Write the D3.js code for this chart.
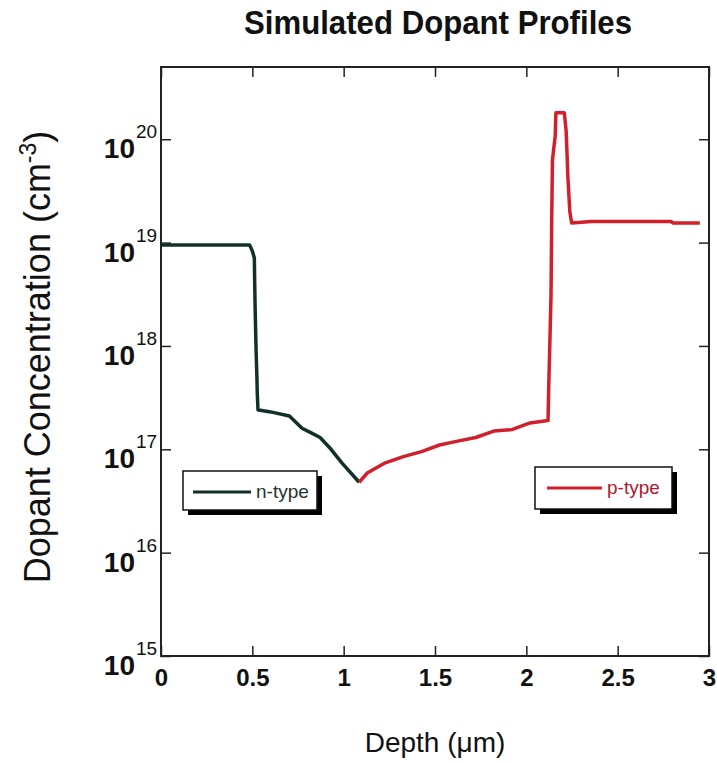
<!DOCTYPE html>
<html>
<head>
<meta charset="utf-8">
<script src="https://cdn.jsdelivr.net/npm/d3@7"></script>
<style>
  html, body { margin: 0; padding: 0; background: #fff; }
  svg { display: block; font-family: "Liberation Sans", Arial, sans-serif; }
</style>
</head>
<body>
<svg id="chart" width="717" height="763"></svg>
<script>
// ---------------- data ----------------
const title = "Simulated Dopant Profiles";
const xLabel = "Depth (\u03bcm)";
const xTicks = [0, 0.5, 1, 1.5, 2, 2.5, 3];
const xTickLabels = ["0", "0.5", "1", "1.5", "2", "2.5", "3"];
const yTicks = [1e15, 1e16, 1e17, 1e18, 1e19, 1e20];
const yTickExponents = ["15", "16", "17", "18", "19", "20"];

const nDepth = [0, 0.485, 0.500, 0.511, 0.513, 0.515, 0.519, 0.521, 0.525, 0.527, 0.531, 0.535, 0.600, 0.703, 0.772, 0.820, 0.871, 0.931, 0.990, 1.085];
const nConc  = [9.5e18, 9.5e18, 8.3e18, 7.1e18, 4.0e18, 2.5e18, 1.2e18, 8.5e17, 5.0e17, 3.5e17, 2.4e17, 2.4e17, 2.3e17, 2.1e17, 1.6e17, 1.45e17, 1.3e17, 1.0e17, 7.4e16, 4.8e16];

const pDepth = [1.085, 1.129, 1.228, 1.327, 1.426, 1.525, 1.624, 1.723, 1.822, 1.921, 2.020, 2.119, 2.123, 2.129, 2.135, 2.139, 2.143, 2.158, 2.162, 2.208, 2.218, 2.228, 2.238, 2.248, 2.356, 2.792, 2.802, 2.950];
const pConc  = [4.8e16, 5.9e16, 7.4e16, 8.5e16, 9.5e16, 1.1e17, 1.2e17, 1.3e17, 1.5e17, 1.55e17, 1.8e17, 1.9e17, 4.3e17, 1.1e18, 3.0e18, 1.7e19, 6.3e19, 1.07e20, 1.8e20, 1.8e20, 1.2e20, 4.1e19, 2.0e19, 1.55e19, 1.6e19, 1.6e19, 1.55e19, 1.55e19];

const seriesNames = ["n-type", "p-type"];
const seriesColors = ["#12302a", "#d0202c"];

// ---------------- layout ----------------
const svg = d3.select("#chart");
const L = 161, R = 709, T = 67, B = 656;

const x = d3.scaleLinear().domain([0, 3]).range([L, R]);
const y = d3.scaleLog().domain([1e15, 5e20]).range([B, T]);

// title
svg.append("text")
  .attr("x", 438).attr("y", 34)
  .attr("text-anchor", "middle")
  .attr("font-size", 33).attr("font-weight", "bold")
  .attr("textLength", 388).attr("lengthAdjust", "spacingAndGlyphs")
  .attr("fill", "#111")
  .text(title);

// axes (ticks inside)
const axColor = "#222";
const gB = svg.append("g").attr("transform", `translate(0,${B})`)
  .call(d3.axisBottom(x).tickValues(xTicks).tickSizeInner(-10).tickSizeOuter(0).tickPadding(13)
        .tickFormat((d, i) => xTickLabels[i]));
gB.selectAll("text").attr("font-size", 24).attr("font-weight", "bold").attr("fill", "#111")
  .attr("font-family", "'Liberation Sans', Arial, sans-serif");
const gT = svg.append("g").attr("transform", `translate(0,${T})`)
  .call(d3.axisTop(x).tickValues(xTicks).tickSizeInner(-10).tickSizeOuter(0).tickFormat(""));
const gL = svg.append("g").attr("transform", `translate(${L},0)`)
  .call(d3.axisLeft(y).tickValues(yTicks).tickSizeInner(-10).tickSizeOuter(0).tickFormat(""));
const gR = svg.append("g").attr("transform", `translate(${R},0)`)
  .call(d3.axisRight(y).tickValues(yTicks).tickSizeInner(-10).tickSizeOuter(0).tickFormat(""));
[gB, gT, gL, gR].forEach(g => {
  g.select(".domain").remove();
  g.selectAll(".tick line").attr("stroke", axColor).attr("stroke-width", 1.5);
});

// frame
svg.append("rect").attr("x", L).attr("y", T).attr("width", R - L).attr("height", B - T)
  .attr("fill", "none").attr("stroke", axColor).attr("stroke-width", 2);

// y tick labels 10^n
yTicks.forEach((v, i) => {
  svg.append("text")
    .attr("x", 135).attr("y", y(v) + 19)
    .attr("text-anchor", "end")
    .attr("font-size", 28).attr("font-weight", "bold").attr("fill", "#111")
    .text("10");
  svg.append("text")
    .attr("x", 136).attr("y", y(v) - 1)
    .attr("font-size", 19).attr("fill", "#111")
    .text(yTickExponents[i]);
});

// x label
svg.append("text")
  .attr("x", 435).attr("y", 752)
  .attr("text-anchor", "middle")
  .attr("font-size", 28).attr("fill", "#111")
  .text(xLabel);

// y label
const yl = svg.append("text")
  .attr("transform", "translate(50,357) rotate(-90)")
  .attr("text-anchor", "middle")
  .attr("font-size", 36).attr("fill", "#111");
yl.append("tspan").text("Dopant Concentration (cm");
yl.append("tspan").attr("dy", -14).attr("font-size", 23).text("-3");
yl.append("tspan").attr("dy", 14).text(")");

// lines
const line = d3.line().x(d => x(d[0])).y(d => y(d[1])).curve(d3.curveLinear);
const nData = nDepth.map((d, i) => [d, nConc[i]]);
const pData = pDepth.map((d, i) => [d, pConc[i]]);
[nData, pData].forEach((data, i) => {
  svg.append("path").datum(data)
    .attr("d", line)
    .attr("fill", "none")
    .attr("stroke", seriesColors[i])
    .attr("stroke-width", 3.5)
    .attr("stroke-linejoin", "round");
});

// legends
const legends = [
  { x: 183, y: 471, w: 134, h: 39, lx1: 193, lx2: 251, tx: 256, ly: 492 },
  { x: 535, y: 467, w: 137, h: 42, lx1: 547, lx2: 602, tx: 607, ly: 488 }
];
legends.forEach((lg, i) => {
  const g = svg.append("g");
  g.append("rect").attr("x", lg.x + 5).attr("y", lg.y + 5).attr("width", lg.w).attr("height", lg.h)
    .attr("fill", "#000");
  g.append("rect").attr("x", lg.x).attr("y", lg.y).attr("width", lg.w).attr("height", lg.h)
    .attr("fill", "#fff").attr("stroke", "#111").attr("stroke-width", 1.5);
  g.append("line").attr("x1", lg.lx1).attr("x2", lg.lx2).attr("y1", lg.ly).attr("y2", lg.ly)
    .attr("stroke", seriesColors[i]).attr("stroke-width", 3);
  g.append("text").attr("x", lg.tx).attr("y", lg.ly + 6)
    .attr("font-size", 19).attr("fill", i === 0 ? "#1f3330" : "#b0182a")
    .text(seriesNames[i]);
});
</script>
</body>
</html>
